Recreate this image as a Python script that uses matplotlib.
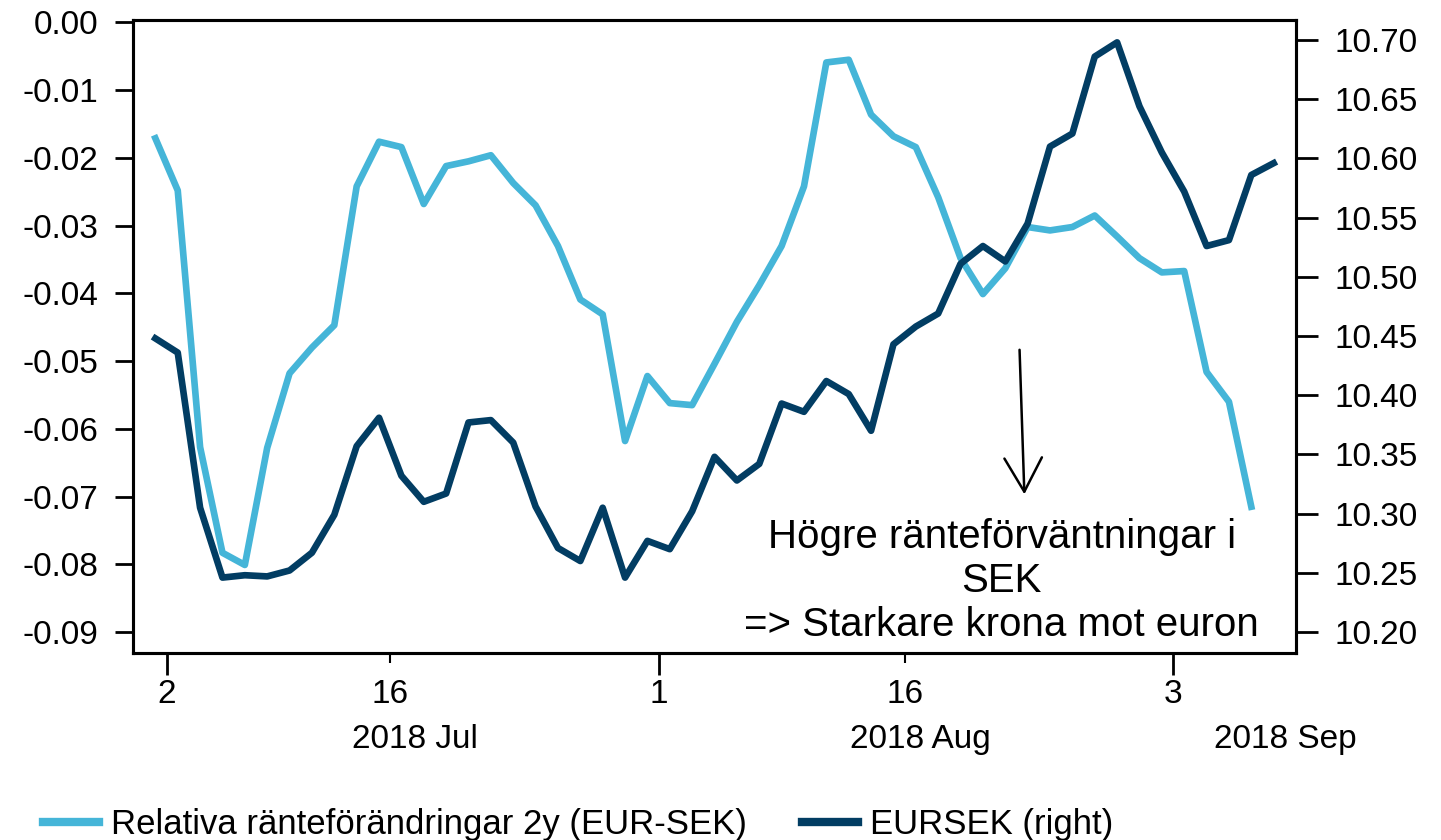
import numpy as np
import pandas as pd
import matplotlib
matplotlib.use("Agg")
import matplotlib.pyplot as plt
import matplotlib.transforms as mtransforms

plt.rcParams['font.family'] = ['Liberation Sans', 'DejaVu Sans']

# Business days from 2018-07-02
dates = pd.bdate_range("2018-07-02", periods=51)

rel_rates = [-0.0171, -0.0248, -0.0627, -0.0783, -0.0801, -0.0628, -0.0518, -0.0480,
             -0.0447, -0.0242, -0.0176, -0.0184, -0.0268, -0.0212, -0.0205, -0.0196,
             -0.0237, -0.0270, -0.0330, -0.0409, -0.0431, -0.0618, -0.0522, -0.0562,
             -0.0565, -0.0504, -0.0442, -0.0388, -0.0330, -0.0242, -0.0059, -0.0055,
             -0.0136, -0.0168, -0.0184, -0.0258, -0.0348, -0.0401, -0.0363, -0.0302,
             -0.0307, -0.0302, -0.0285, -0.0316, -0.0348, -0.0369, -0.0367, -0.0516,
             -0.0560, -0.0715]

eursek = [10.448, 10.436, 10.305, 10.246, 10.248, 10.247, 10.252, 10.267, 10.299,
          10.357, 10.381, 10.332, 10.310, 10.317, 10.377, 10.379, 10.360, 10.306,
          10.271, 10.260, 10.305, 10.246, 10.277, 10.270, 10.302, 10.348, 10.328,
          10.342, 10.393, 10.386, 10.412, 10.401, 10.370, 10.443, 10.458, 10.469,
          10.511, 10.526, 10.513, 10.545, 10.610, 10.621, 10.686, 10.698, 10.644,
          10.605, 10.572, 10.526, 10.531, 10.586, 10.596]

month_start_labels = ["2", "1", "3"]
month_start_dates = ["2018-07-02", "2018-08-01", "2018-09-03"]
mid_labels = ["16", "16"]
mid_dates = ["2018-07-16", "2018-08-16"]
month_names = ["2018 Jul", "2018 Aug", "2018 Sep"]
month_name_pos = [11.6, 34.2, 50.5]

left_ticks = [-0.09, -0.08, -0.07, -0.06, -0.05, -0.04, -0.03, -0.02, -0.01, 0.0]
right_ticks = [10.20, 10.25, 10.30, 10.35, 10.40, 10.45, 10.50, 10.55, 10.60, 10.65, 10.70]

light = "#45b5d8"
dark = "#023d63"

fig = plt.figure(figsize=(14.41, 8.4), dpi=100)
ax = fig.add_axes([0.0923, 0.2226, 0.8071, 0.7536])
ax2 = ax.twinx()

idx = np.arange(len(dates))
ax.plot(idx[:len(rel_rates)], rel_rates, color=light, lw=4.8)
ax2.plot(idx[:len(eursek)], eursek, color=dark, lw=4.8)

ax.set_xlim(-1, 51)
ax.set_ylim(-0.0931, 0.00037)
ax2.set_ylim(10.1823, 10.7169)

ax.set_yticks(left_ticks)
ax.set_yticklabels([f"{abs(v):.2f}" if v == 0 else f"{v:.2f}" for v in left_ticks])
ax2.set_yticks(right_ticks)
ax2.set_yticklabels([f"{v:.2f}" for v in right_ticks])

pos = {d: i for i, d in enumerate(dates)}
major = [pos[pd.Timestamp(d)] + 0.5 for d in month_start_dates]
minor = [pos[pd.Timestamp(d)] + 0.5 for d in mid_dates]
ax.set_xticks(major)
ax.set_xticklabels(month_start_labels)
ax.set_xticks(minor, minor=True)
ax.set_xticklabels(mid_labels, minor=True)

ax.tick_params(axis="x", which="major", length=16, width=2, labelsize=24, pad=3)
ax.tick_params(axis="x", which="minor", length=7, width=1.5, labelsize=24, pad=12)
ax.tick_params(axis="y", length=13, width=2, labelsize=24, pad=12)
ax2.tick_params(axis="y", length=16, width=2, labelsize=24, pad=12)

for a in (ax, ax2):
    for s in a.spines.values():
        s.set_linewidth(2.2)

trans = mtransforms.blended_transform_factory(ax.transData, ax.transAxes)
for p, name in zip(month_name_pos, month_names):
    ax.text(p, -0.137, name, transform=trans, ha="center", va="center", fontsize=24)

ax.annotate("", xy=(0.7665, 0.2464), xytext=(0.7622, 0.4834),
            xycoords="axes fraction",
            arrowprops=dict(arrowstyle="->,head_length=0.54,head_width=0.3",
                            color="black", lw=1.8, mutation_scale=45))
ax.text(0.747, 0.1137, "Högre ränteförväntningar i\nSEK\n=> Starkare krona mot euron",
        transform=ax.transAxes, ha="center", va="center", fontsize=29,
        linespacing=1.2)

handles = [plt.Line2D([], [], color=light, lw=6),
           plt.Line2D([], [], color=dark, lw=6)]
fig.legend(handles, ["Relativa ränteförändringar 2y (EUR-SEK)", "EURSEK (right)"],
           loc="center left", bbox_to_anchor=(0.03, 0.018), ncol=2, frameon=False,
           handlelength=1.6, handletextpad=0.35, columnspacing=1.6,
           borderaxespad=0, borderpad=0, prop={"size": 25})

fig.savefig("out.png", dpi=100)
